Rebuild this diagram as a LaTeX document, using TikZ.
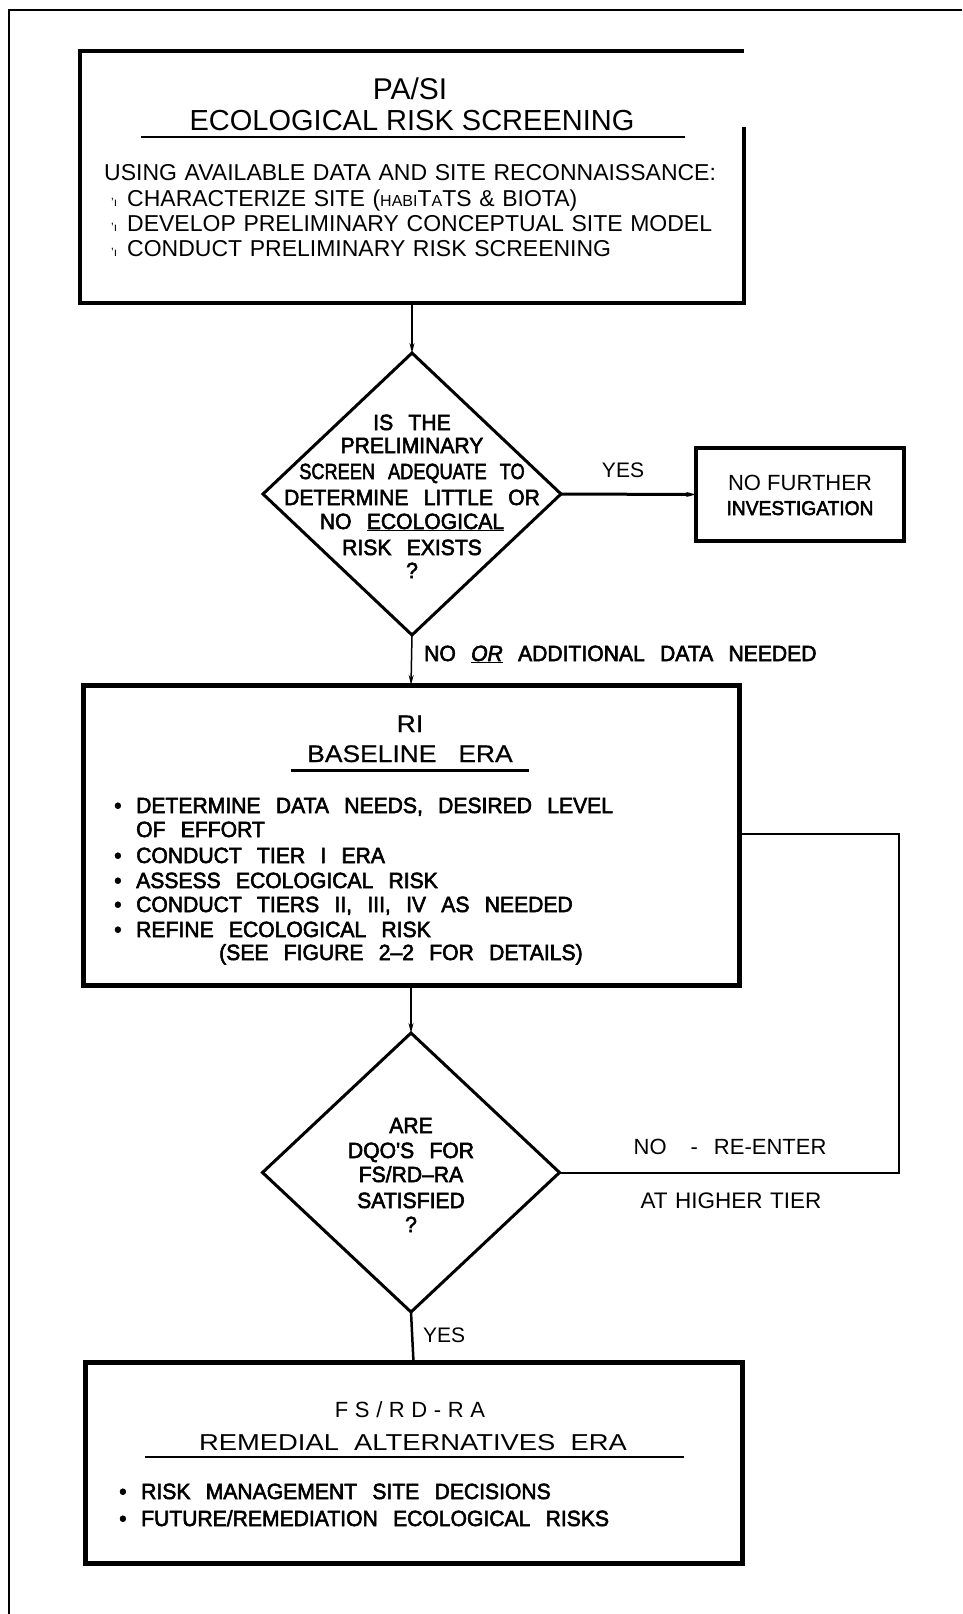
\documentclass[tikz,border=0pt]{standalone}
\usepackage{graphicx}
\usepackage{fontspec}
\setmainfont{Liberation Sans}
\newfontfamily\cadfont[WordSpace=2.6,FakeStretch=0.96,FakeBold=2.6]{Liberation Sans}
\newfontfamily\cadwide[WordSpace=3,FakeStretch=1.1,FakeBold=0.6]{Liberation Sans}
\newfontfamily\plainfont[WordSpace=1.2]{Liberation Sans}
\newfontfamily\titlewide[WordSpace=2,FakeStretch=1.19]{Liberation Sans}
\newfontfamily\trackfont[LetterSpace=30]{Liberation Sans}
\usetikzlibrary{shapes.geometric,arrows.meta,calc}
\newcommand{\fsz}[1]{\fontsize{#1}{#1}\selectfont}

\begin{document}
\begin{tikzpicture}[x=1pt,y=-1pt,
  boxnode/.style={draw,rectangle,inner sep=0pt,outer sep=0pt,line join=miter},
  dianode/.style={draw,diamond,inner sep=0pt,outer sep=0pt,line width=3pt,line join=miter},
  cen/.style={inner sep=0pt,anchor=base},
  lft/.style={inner sep=0pt,anchor=base west},
  cad/.style={font=\cadfont\fsz{22}},
  thinline/.style={line width=1.5pt},
  tipsty/.style={-{Stealth[length=10pt,width=5pt]}},
]
\useasboundingbox (0,0) rectangle (962,1614);
\fill[white] (0,0) rectangle (962,1614);

% outer frame
\draw[line width=2.5pt] (9,1614) -- (9,10) -- (962,10);

% ---------- top box ----------
\node[boxnode,draw=none,minimum width=664pt,minimum height=252pt] (tb) at (412,177) {};
\draw[line width=4pt,line join=miter] ($(tb.north east)+(0,76)$) -- (tb.south east) -- (tb.south west) -- (tb.north west) -- (tb.north east);
\node[cen,font=\fsz{30}] (tbt1) at (410,99) {PA/SI};
\node[cen,font=\fsz{29}] (tbt2) at (412,130) {ECOLOGICAL RISK SCREENING};
\draw[line width=1.5pt] (141,137) -- (685,137);
\node[lft,font=\plainfont\fsz{23}] (tbl1) at (104,180) {USING AVAILABLE DATA AND SITE RECONNAISSANCE:};
\node[lft,font=\fsz{12}] (tbb2) at (111,206) {'ı};
\node[lft,font=\plainfont\fsz{23}] (tbl2) at (127,206) {CHARACTERIZE SITE ({\fsz{16}HABI}T{\fsz{16}A}TS \& BIOTA)};
\node[lft,font=\fsz{12}] (tbb3) at (111,231) {'ı};
\node[lft,font=\plainfont\fsz{23}] (tbl3) at (127,231) {DEVELOP PRELIMINARY CONCEPTUAL SITE MODEL};
\node[lft,font=\fsz{12}] (tbb4) at (111,256) {'ı};
\node[lft,font=\plainfont\fsz{23}] (tbl4) at (127,256) {CONDUCT PRELIMINARY RISK SCREENING};

% ---------- diamond 1 ----------
\node[dianode,minimum width=298pt,minimum height=282pt] (d1) at (412,494) {};
\node[cen,cad] (d1a) at (412,430) {IS THE};
\node[cen,cad] (d1b) at (412,453) {PRELIMINARY};
\node[cen,cad] (d1c) at (412,479) {\scalebox{0.86}[1]{SCREEN ADEQUATE TO}};
\node[cen,cad] (d1d) at (412,505) {DETERMINE LITTLE OR};
\node[cen,cad] (d1e) at (412,529) {NO \underline{ECOLOGICAL}};
\node[cen,cad] (d1f) at (412,555) {RISK EXISTS};
\node[cen,cad] (d1g) at (412,578) {?};

% ---------- no further ----------
\node[boxnode,line width=4pt,minimum width=208pt,minimum height=93pt] (nf) at (800,494.5) {};
\node[cen,font=\fsz{22}] (nf1) at (800,490) {NO FURTHER};
\node[cen,font=\cadfont\fsz{20}] (nf2) at (800,515) {INVESTIGATION};
\node[cen,font=\fsz{21}] (yes1) at (623,477) {YES};
\draw[line width=3pt,tipsty] (d1.east) -- (nf.west);

\node[lft,cad] (noor) at (424,661) {NO \underline{\itshape OR} ADDITIONAL DATA NEEDED};

% ---------- RI box ----------
\node[boxnode,line width=5pt,minimum width=656pt,minimum height=300pt] (ri) at (411,835) {};
\node[cen,font=\cadwide\fsz{24}] (ri1) at (410,732) {RI};
\node[cen,font=\cadwide\fsz{24}] (ri2) at (410,762) {BASELINE ERA};
\draw[line width=3pt] (291,770) -- (529,770);
\node[lft,cad] (rb1) at (114,813) {•};
\node[lft,cad] (rl1) at (136,813) {DETERMINE DATA NEEDS, DESIRED LEVEL};
\node[lft,cad] (rl2) at (136,837) {OF EFFORT};
\node[lft,cad] (rb3) at (114,863) {•};
\node[lft,cad] (rl3) at (136,863) {CONDUCT TIER I ERA};
\node[lft,cad] (rb4) at (114,888) {•};
\node[lft,cad] (rl4) at (136,888) {ASSESS ECOLOGICAL RISK};
\node[lft,cad] (rb5) at (114,912) {•};
\node[lft,cad] (rl5) at (136,912) {CONDUCT TIERS II, III, IV AS NEEDED};
\node[lft,cad] (rb6) at (114,937) {•};
\node[lft,cad] (rl6) at (136,937) {REFINE ECOLOGICAL RISK};
\node[lft,cad] (rl7) at (219,960) {(SEE FIGURE 2–2 FOR DETAILS)};

% ---------- diamond 2 ----------
\node[dianode,minimum width=297pt,minimum height=279pt] (d2) at (411,1172.5) {};
\node[cen,cad] (d2a) at (411,1133) {ARE};
\node[cen,cad] (d2b) at (411,1158) {DQO'S FOR};
\node[cen,cad] (d2c) at (411,1182) {FS/RD–RA};
\node[cen,cad] (d2d) at (411,1208) {SATISFIED};
\node[cen,cad] (d2e) at (411,1232) {?};

% feedback loop
\coordinate (loopa) at (899,1172.5);
\coordinate (loopb) at (899,834);
\draw[line width=2pt] (d2.east) -- (loopa) -- (loopb) -- (ri.east |- loopb);
\node[cen,font=\fsz{22}] (reenter) at (730,1154) {NO\hspace{24pt}-\hspace{16pt}RE-ENTER};
\node[cen,font=\plainfont\fsz{22.5}] (higher) at (731,1208) {AT HIGHER TIER};

% ---------- bottom box ----------
\node[boxnode,line width=5pt,minimum width=657pt,minimum height=201pt] (fbx) at (413.5,1462.5) {};
\node[cen,font=\trackfont\fsz{22}] (fbt1) at (410,1417) {FS/RD-RA};
\node[cen,font=\titlewide\fsz{23}] (fbt2) at (413,1450) {REMEDIAL ALTERNATIVES ERA};
\draw[line width=2pt] (145,1457) -- (684,1457);
\node[lft,cad] (fbb1) at (119,1499) {•};
\node[lft,cad] (fbl1) at (141,1499) {RISK MANAGEMENT SITE DECISIONS};
\node[lft,cad] (fbb2) at (119,1526) {•};
\node[lft,cad] (fbl2) at (141,1526) {FUTURE/REMEDIATION ECOLOGICAL RISKS};

% ---------- connectors ----------
\draw[thinline,tipsty] (tb.south) -- (d1.north);
\draw[thinline,tipsty] (d1.south) -- (ri.north);
\draw[thinline,tipsty] (ri.south) -- (d2.north);
\draw[line width=2.5pt] (d2.south) -- (fbx.north);
\node[lft,font=\fsz{21}] (yes2) at (423,1342) {YES};
\end{tikzpicture}
\end{document}
